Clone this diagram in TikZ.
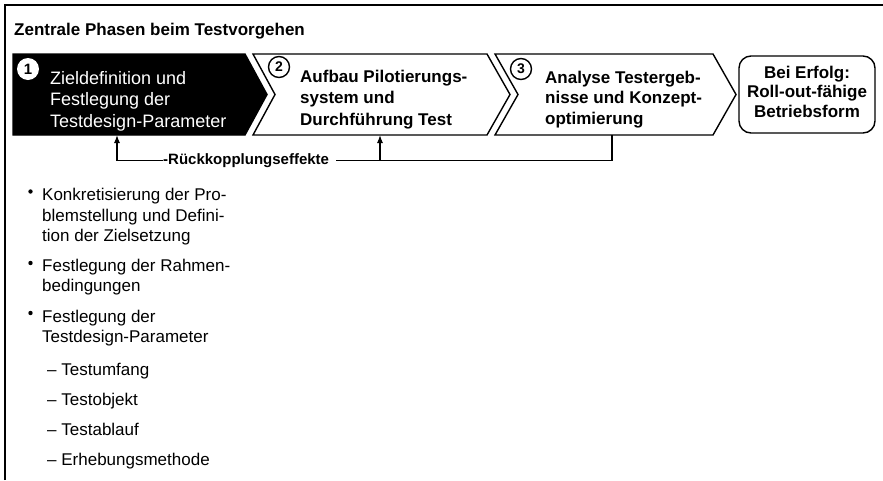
\documentclass[tikz,border=0pt]{standalone}
\usepackage{fontspec}
\setmainfont{Liberation Sans}
\usetikzlibrary{arrows.meta}
\begin{document}
\begin{tikzpicture}[x=1pt,y=-1pt,
  frame/.style={line width=1.2pt},
  chev/.style={line width=1.4pt, line join=miter},
  txt/.style={inner sep=0pt, align=left, anchor=base west},
  reg/.style={font=\fontsize{17}{20.5}\selectfont},
  bld/.style={font=\bfseries\fontsize{17}{21.5}\selectfont},
  num/.style={circle, inner sep=0pt, minimum size=21pt, font=\bfseries\fontsize{14}{14}\selectfont},
  bul/.style={circle, fill=black, inner sep=0pt, minimum size=4.4pt},
  fbline/.style={line width=1.2pt},
  fbarrow/.style={line width=1.2pt, -{Latex[length=8pt,width=6pt]}}]
\useasboundingbox (0,0) rectangle (883,480);
\fill[white] (0,0) rectangle (883,480);
% frame
\draw[frame] (5,480) -- (5,5) -- (883,5);
% title
\node[txt, font=\bfseries\fontsize{17}{20}\selectfont] (title) at (14,35) {Zentrale Phasen beim Testvorgehen};
% chevrons
\draw[chev, fill=black] (13,54) -- (245,54) -- (267,94.5) -- (245,135) -- (13,135) -- cycle;
\draw[chev] (253,54) -- (487,54) -- (510,94.5) -- (487,135) -- (253,135) -- (275,94.5) -- cycle;
\draw[chev] (495,54) -- (713,54) -- (736,94.5) -- (713,135) -- (495,135) -- (518,94.5) -- cycle;
\node[draw, line width=1.4pt, rounded corners=12pt, minimum width=136pt, minimum height=77pt] (box) at (807,94.5) {};
% numbers
\node[num, fill=white, minimum size=22pt, font=\bfseries\fontsize{15}{15}\selectfont] (n1) at (28,69) {1};
\node[num, draw, line width=1.4pt] (n2) at (279,67) {2};
\node[num, draw, line width=1.4pt] (n3) at (521,69) {3};
% texts in shapes (base anchor = baseline of last line)
\node[txt, text=white, font=\fontsize{18}{21.5}\selectfont] (t1) at (50,127) {Zieldefinition und\\Festlegung der\\Testdesign-Parameter};
\node[txt, bld] (t2) at (300,125) {Aufbau Pilotierungs-\\system und\\Durchführung Test};
\node[txt, font=\bfseries\fontsize{17}{20.5}\selectfont] (t3) at (545,124) {Analyse Testergeb-\\nisse und Konzept-\\optimierung};
\node[inner sep=0pt, align=center, anchor=base, font=\bfseries\fontsize{17}{19.5}\selectfont] (bt) at (807,117) {Bei Erfolg:\\Roll-out-fähige\\Betriebsform};
% feedback
\coordinate (f1) at (117,135);
\coordinate (f2) at (380,135);
\coordinate (f3) at (612,135);
\node[txt, font=\bfseries\fontsize{15}{15}\selectfont] (fb) at (163,164) {-Rückkopplungseffekte};
\draw[fbarrow] (fb.west) -| (f1);
\draw[fbline] (f3) |- ([xshift=7pt]fb.east);
\draw[fbarrow] (fb.east -| f2) -- (f2);
% list
\node[bul] (b1) at (30.5,191.5) {};
\node[bul] (b2) at (30.5,263) {};
\node[bul] (b3) at (30.5,313) {};
\node[txt, reg] (i1) at (42,241.5) {Konkretisierung der Pro-\\blemstellung und Defini-\\tion der Zielsetzung};
\node[txt, font=\fontsize{17}{19.5}\selectfont] (i2) at (42,291) {Festlegung der Rahmen-\\bedingungen};
\node[txt, reg] (i3) at (42,342.5) {Festlegung der\\Testdesign-Parameter};
\node[txt, reg] (d1) at (47,375) {– Testumfang};
\node[txt, reg] (d2) at (47,405) {– Testobjekt};
\node[txt, reg] (d3) at (47,435) {– Testablauf};
\node[txt, reg] (d4) at (47,465) {– Erhebungsmethode};
\end{tikzpicture}
\end{document}
